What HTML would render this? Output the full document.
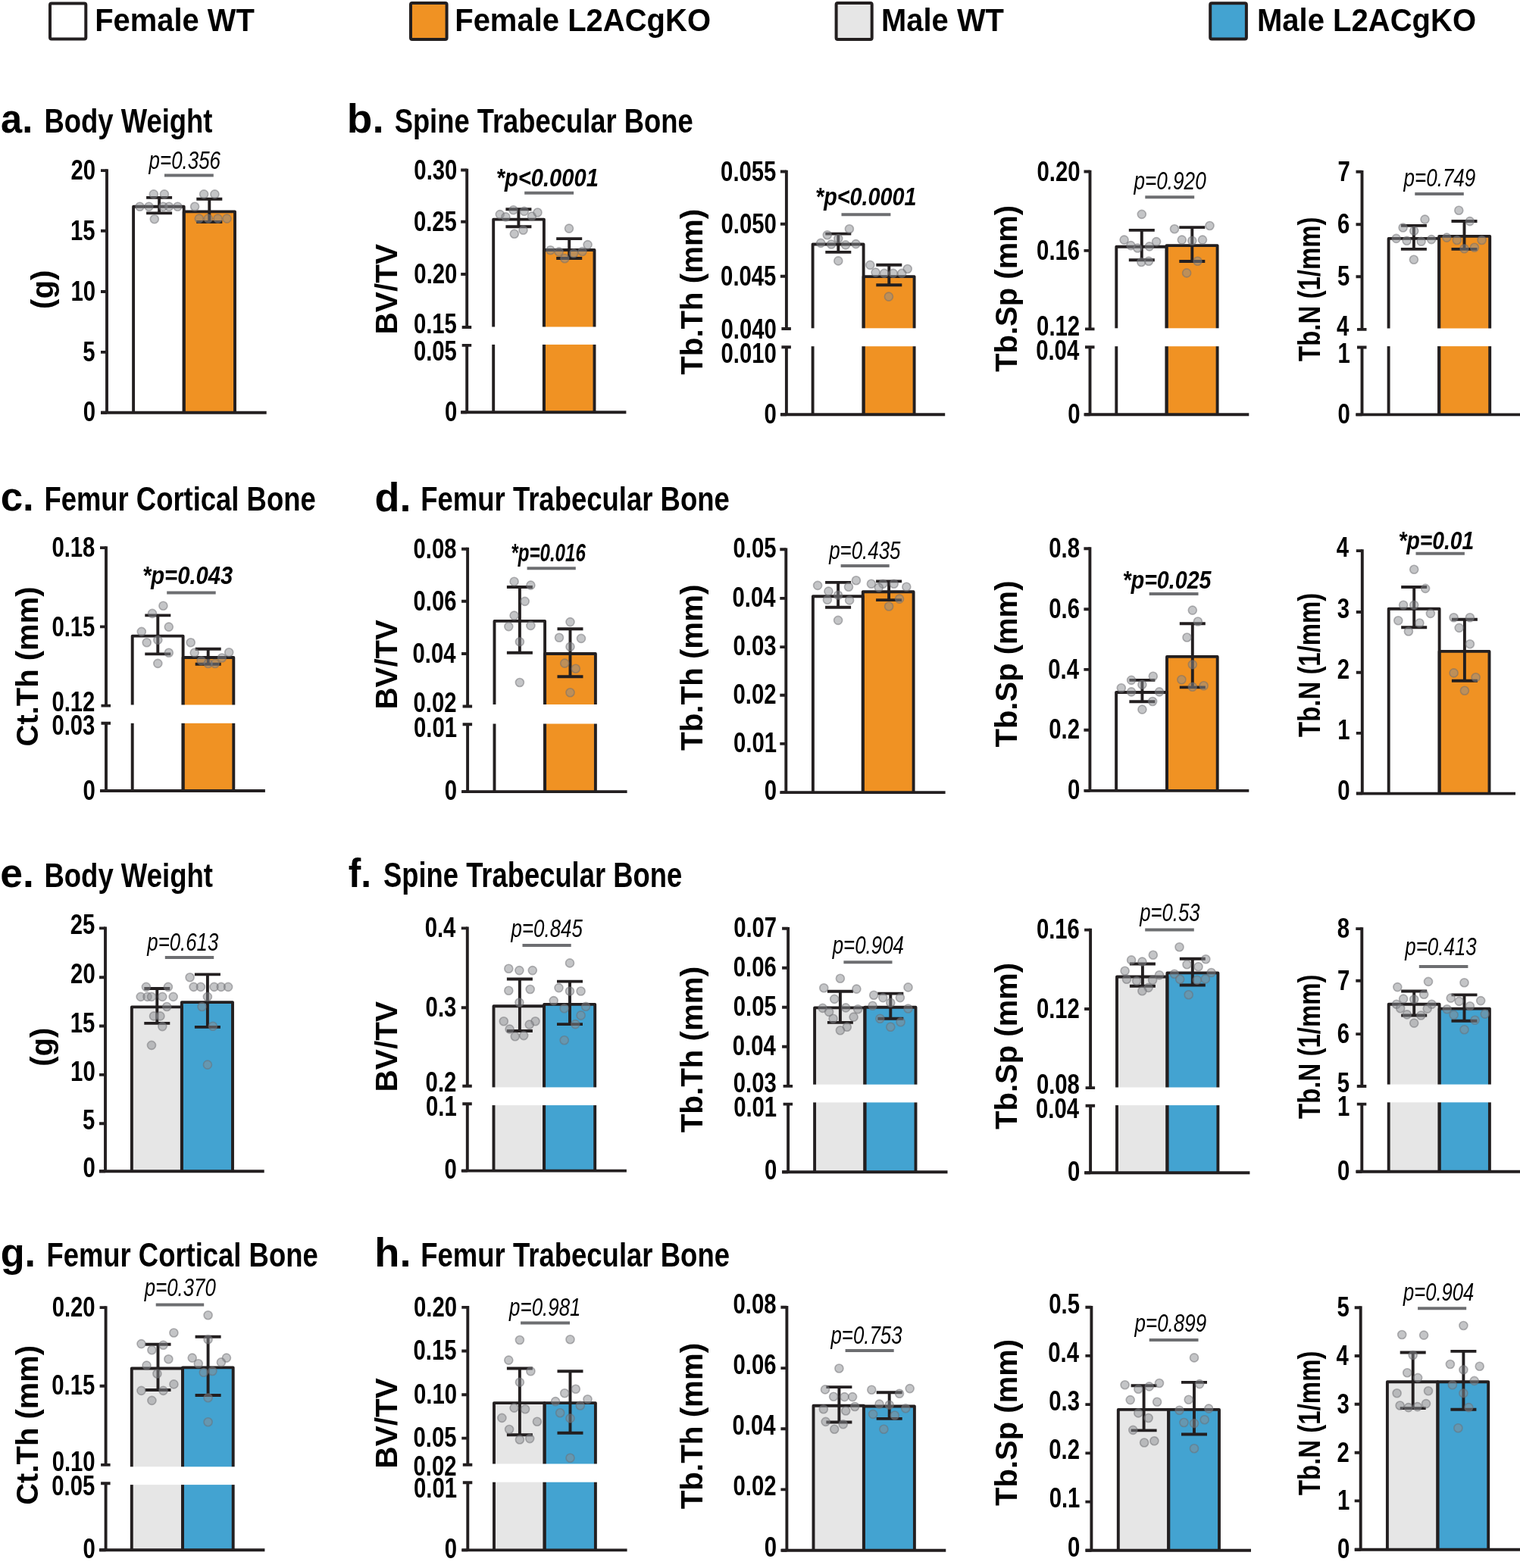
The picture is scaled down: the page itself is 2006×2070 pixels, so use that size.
<!DOCTYPE html>
<html><head><meta charset="utf-8"><title>Figure</title>
<style>
html,body{margin:0;padding:0;background:#fff;}
svg{display:block;}
text{font-family:"Liberation Sans", Arial, sans-serif;}
.o{fill:none;stroke:#231F20;stroke-width:3.9;stroke-linejoin:round;}
.e{fill:none;stroke:#231F20;stroke-width:3.9;}
.a{fill:none;stroke:#231F20;stroke-width:3.9;}
.s{fill:none;stroke:#6D6E71;stroke-width:4;}
.d{fill:#8A8C90;fill-opacity:0.5;stroke:#6D6E72;stroke-opacity:0.5;stroke-width:1.6;}
</style></head>
<body>
<svg xmlns="http://www.w3.org/2000/svg" width="2006" height="2070" viewBox="0 0 2006 2070">
<rect width="2006" height="2070" fill="#fff"/>
<g id="p_a"><rect x="176.10" y="272.70" width="66.60" height="272.00" fill="#FFFFFF"/><rect x="242.70" y="279.40" width="67.30" height="265.30" fill="#F09223"/><path d="M176.10,544.70V272.70H242.70V544.70" class="o"/><path d="M242.70,544.70V279.40H310.00V544.70" class="o"/><path d="M210.10,260.90V281.40M193.10,260.90H227.10M193.10,281.40H227.10" class="e"/><path d="M276.30,262.70V293.00M259.30,262.70H293.30M259.30,293.00H293.30" class="e"/><circle cx="202.8" cy="256.4" r="5.5" class="d"/><circle cx="216.9" cy="256.4" r="5.5" class="d"/><circle cx="184.5" cy="272.8" r="5.5" class="d"/><circle cx="196.5" cy="272.8" r="5.5" class="d"/><circle cx="215.4" cy="272.8" r="5.5" class="d"/><circle cx="223.0" cy="272.8" r="5.5" class="d"/><circle cx="234.4" cy="272.8" r="5.5" class="d"/><circle cx="203.8" cy="289.2" r="5.5" class="d"/><circle cx="269.1" cy="256.4" r="5.5" class="d"/><circle cx="283.4" cy="256.4" r="5.5" class="d"/><circle cx="257.1" cy="272.8" r="5.5" class="d"/><circle cx="262.8" cy="288.6" r="5.5" class="d"/><circle cx="274.8" cy="288.6" r="5.5" class="d"/><circle cx="287.5" cy="288.6" r="5.5" class="d"/><circle cx="299.5" cy="288.6" r="5.5" class="d"/><path d="M141.00,223.25V544.70" class="a"/><path d="M133.30,544.70H351.70" class="a"/><path d="M133.00,225.10H141.00M133.00,304.80H141.00M133.00,385.00H141.00M133.00,464.90H141.00M133.00,544.70H141.00" class="a"/><text transform="translate(93.39,236.90) scale(0.7900,1)" style="font-size:37.10px;font-weight:bold">20</text><text transform="translate(92.93,316.60) scale(0.7900,1)" style="font-size:37.10px;font-weight:bold">15</text><text transform="translate(93.39,396.80) scale(0.7900,1)" style="font-size:37.10px;font-weight:bold">10</text><text transform="translate(109.23,476.70) scale(0.7900,1)" style="font-size:37.10px;font-weight:bold">5</text><text transform="translate(109.69,555.70) scale(0.7900,1)" style="font-size:37.10px;font-weight:bold">0</text><path d="M217.00,231.60H281.80" class="s"/><text transform="translate(196.61,223.10) scale(0.7808,1)" style="font-size:33.20px;font-weight:normal;font-style:italic;" fill="#000">p=0.356</text><text transform="translate(69.50,407.88) rotate(-90) scale(0.9806,1)" style="font-size:41.00px;font-weight:bold">(g)</text></g>
<g id="p_b1"><rect x="651.20" y="289.60" width="66.70" height="254.60" fill="#FFFFFF"/><rect x="717.90" y="330.00" width="66.60" height="214.20" fill="#F09223"/><path d="M651.20,544.20V289.60H717.90V544.20" class="o"/><path d="M717.90,544.20V330.00H784.50V544.20" class="o"/><rect x="647.20" y="431.50" width="141.30" height="23.40" fill="#fff"/><path d="M684.40,276.30V299.20M667.40,276.30H701.40M667.40,299.20H701.40" class="e"/><path d="M751.20,315.10V341.00M734.20,315.10H768.20M734.20,341.00H768.20" class="e"/><circle cx="659.8" cy="283.1" r="5.5" class="d"/><circle cx="667.4" cy="286.4" r="5.5" class="d"/><circle cx="677.5" cy="277.2" r="5.5" class="d"/><circle cx="691.8" cy="278.9" r="5.5" class="d"/><circle cx="701.9" cy="285.6" r="5.5" class="d"/><circle cx="709.5" cy="280.5" r="5.5" class="d"/><circle cx="678.8" cy="308.8" r="5.5" class="d"/><circle cx="690.5" cy="303.7" r="5.5" class="d"/><circle cx="751.0" cy="301.6" r="5.5" class="d"/><circle cx="775.6" cy="323.1" r="5.5" class="d"/><circle cx="726.4" cy="330.3" r="5.5" class="d"/><circle cx="737.7" cy="332.4" r="5.5" class="d"/><circle cx="745.3" cy="341.2" r="5.5" class="d"/><circle cx="757.1" cy="334.5" r="5.5" class="d"/><circle cx="768.5" cy="332.0" r="5.5" class="d"/><path d="M616.20,222.65V432.00M616.20,455.90V544.20" class="a"/><path d="M609.70,432.00H622.20M609.70,455.90H622.20" class="a"/><path d="M608.40,544.20H826.40" class="a"/><path d="M608.20,224.50H616.20M608.20,292.80H616.20M608.20,362.00H616.20M608.20,544.20H616.20" class="a"/><text transform="translate(546.34,236.70) scale(0.7900,1)" style="font-size:37.10px;font-weight:bold">0.30</text><text transform="translate(545.89,305.00) scale(0.7900,1)" style="font-size:37.10px;font-weight:bold">0.25</text><text transform="translate(546.34,374.20) scale(0.7900,1)" style="font-size:37.10px;font-weight:bold">0.20</text><text transform="translate(545.89,439.90) scale(0.7900,1)" style="font-size:37.10px;font-weight:bold">0.15</text><text transform="translate(545.89,475.80) scale(0.7900,1)" style="font-size:37.10px;font-weight:bold">0.05</text><text transform="translate(587.09,555.60) scale(0.7900,1)" style="font-size:37.10px;font-weight:bold">0</text><path d="M692.20,254.70H757.10" class="s"/><text transform="translate(654.69,245.90) scale(0.8778,1)" style="font-size:33.20px;font-weight:bold;font-style:italic;" fill="#000">*p&lt;0.0001</text><text transform="translate(523.90,441.43) rotate(-90) scale(0.9892,1)" style="font-size:41.00px;font-weight:bold">BV/TV</text></g>
<g id="p_b2"><rect x="1072.60" y="322.50" width="67.00" height="224.70" fill="#FFFFFF"/><rect x="1139.60" y="365.10" width="67.00" height="182.10" fill="#F09223"/><path d="M1072.60,547.20V322.50H1139.60V547.20" class="o"/><path d="M1139.60,547.20V365.10H1206.60V547.20" class="o"/><rect x="1068.60" y="433.30" width="142.00" height="23.90" fill="#fff"/><path d="M1106.30,308.60V332.90M1089.30,308.60H1123.30M1089.30,332.90H1123.30" class="e"/><path d="M1173.30,349.80V376.20M1156.30,349.80H1190.30M1156.30,376.20H1190.30" class="e"/><circle cx="1120.9" cy="302.3" r="5.5" class="d"/><circle cx="1091.8" cy="310.3" r="5.5" class="d"/><circle cx="1106.3" cy="315.0" r="5.5" class="d"/><circle cx="1083.2" cy="320.9" r="5.5" class="d"/><circle cx="1097.1" cy="322.5" r="5.5" class="d"/><circle cx="1116.0" cy="323.4" r="5.5" class="d"/><circle cx="1129.5" cy="322.1" r="5.5" class="d"/><circle cx="1106.3" cy="344.4" r="5.5" class="d"/><circle cx="1148.3" cy="349.9" r="5.5" class="d"/><circle cx="1197.7" cy="355.0" r="5.5" class="d"/><circle cx="1155.6" cy="359.6" r="5.5" class="d"/><circle cx="1167.0" cy="360.9" r="5.5" class="d"/><circle cx="1178.8" cy="360.9" r="5.5" class="d"/><circle cx="1190.2" cy="360.9" r="5.5" class="d"/><circle cx="1172.9" cy="391.6" r="5.5" class="d"/><path d="M1037.90,224.65V434.00M1037.90,458.30V547.20" class="a"/><path d="M1031.40,434.00H1043.90M1031.40,458.30H1043.90" class="a"/><path d="M1030.40,547.20H1247.20" class="a"/><path d="M1029.90,226.50H1037.90M1029.90,295.70H1037.90M1029.90,364.70H1037.90M1029.90,547.20H1037.90" class="a"/><text transform="translate(951.09,238.80) scale(0.7900,1)" style="font-size:37.10px;font-weight:bold">0.055</text><text transform="translate(951.54,308.00) scale(0.7900,1)" style="font-size:37.10px;font-weight:bold">0.050</text><text transform="translate(951.09,377.00) scale(0.7900,1)" style="font-size:37.10px;font-weight:bold">0.045</text><text transform="translate(951.54,446.70) scale(0.7900,1)" style="font-size:37.10px;font-weight:bold">0.040</text><text transform="translate(951.54,479.10) scale(0.7900,1)" style="font-size:37.10px;font-weight:bold">0.010</text><text transform="translate(1008.59,558.70) scale(0.7900,1)" style="font-size:37.10px;font-weight:bold">0</text><path d="M1110.50,283.20H1175.40" class="s"/><text transform="translate(1076.00,271.40) scale(0.8672,1)" style="font-size:33.20px;font-weight:bold;font-style:italic;" fill="#000">*p&lt;0.0001</text><text transform="translate(927.20,494.70) rotate(-90) scale(0.9806,1)" style="font-size:41.00px;font-weight:bold">Tb.Th (mm)</text></g>
<g id="p_b3"><rect x="1473.30" y="325.70" width="66.30" height="221.50" fill="#FFFFFF"/><rect x="1539.60" y="324.10" width="67.00" height="223.10" fill="#F09223"/><path d="M1473.30,547.20V325.70H1539.60V547.20" class="o"/><path d="M1539.60,547.20V324.10H1606.60V547.20" class="o"/><rect x="1469.30" y="433.30" width="141.30" height="23.90" fill="#fff"/><path d="M1506.80,303.90V343.30M1489.80,303.90H1523.80M1489.80,343.30H1523.80" class="e"/><path d="M1573.30,300.10V345.00M1556.30,300.10H1590.30M1556.30,345.00H1590.30" class="e"/><circle cx="1506.8" cy="282.9" r="5.5" class="d"/><circle cx="1483.6" cy="316.6" r="5.5" class="d"/><circle cx="1492.4" cy="324.1" r="5.5" class="d"/><circle cx="1501.3" cy="327.5" r="5.5" class="d"/><circle cx="1526.1" cy="319.1" r="5.5" class="d"/><circle cx="1516.9" cy="325.4" r="5.5" class="d"/><circle cx="1506.3" cy="346.0" r="5.5" class="d"/><circle cx="1516.0" cy="344.8" r="5.5" class="d"/><circle cx="1550.0" cy="302.2" r="5.5" class="d"/><circle cx="1596.5" cy="298.0" r="5.5" class="d"/><circle cx="1559.8" cy="316.6" r="5.5" class="d"/><circle cx="1573.3" cy="317.8" r="5.5" class="d"/><circle cx="1587.0" cy="316.6" r="5.5" class="d"/><circle cx="1580.5" cy="344.8" r="5.5" class="d"/><circle cx="1566.1" cy="360.4" r="5.5" class="d"/><path d="M1438.50,224.65V434.40M1438.50,458.30V547.20" class="a"/><path d="M1432.00,434.40H1444.50M1432.00,458.30H1444.50" class="a"/><path d="M1431.60,547.20H1648.30" class="a"/><path d="M1430.50,226.50H1438.50M1430.50,330.90H1438.50M1430.50,547.20H1438.50" class="a"/><text transform="translate(1368.54,238.70) scale(0.7900,1)" style="font-size:37.10px;font-weight:bold">0.20</text><text transform="translate(1368.09,343.10) scale(0.7900,1)" style="font-size:37.10px;font-weight:bold">0.16</text><text transform="translate(1368.09,442.70) scale(0.7900,1)" style="font-size:37.10px;font-weight:bold">0.12</text><text transform="translate(1367.17,474.90) scale(0.7900,1)" style="font-size:37.10px;font-weight:bold">0.04</text><text transform="translate(1409.29,558.60) scale(0.7900,1)" style="font-size:37.10px;font-weight:bold">0</text><path d="M1511.30,260.30H1576.20" class="s"/><text transform="translate(1496.52,250.40) scale(0.7874,1)" style="font-size:33.20px;font-weight:normal;font-style:italic;" fill="#000">p=0.920</text><text transform="translate(1342.10,490.90) rotate(-90) scale(0.9759,1)" style="font-size:41.00px;font-weight:bold">Tb.Sp (mm)</text></g>
<g id="p_b4"><rect x="1832.60" y="314.90" width="66.60" height="232.50" fill="#FFFFFF"/><rect x="1899.20" y="311.90" width="67.00" height="235.50" fill="#F09223"/><path d="M1832.60,547.40V314.90H1899.20V547.40" class="o"/><path d="M1899.20,547.40V311.90H1966.20V547.40" class="o"/><rect x="1828.60" y="433.50" width="141.60" height="23.60" fill="#fff"/><path d="M1865.90,297.90V328.90M1848.90,297.90H1882.90M1848.90,328.90H1882.90" class="e"/><path d="M1932.50,292.00V328.90M1915.50,292.00H1949.50M1915.50,328.90H1949.50" class="e"/><circle cx="1880.5" cy="289.6" r="5.5" class="d"/><circle cx="1851.6" cy="300.5" r="5.5" class="d"/><circle cx="1866.2" cy="304.8" r="5.5" class="d"/><circle cx="1842.7" cy="314.9" r="5.5" class="d"/><circle cx="1856.6" cy="317.8" r="5.5" class="d"/><circle cx="1875.6" cy="318.7" r="5.5" class="d"/><circle cx="1889.1" cy="316.1" r="5.5" class="d"/><circle cx="1865.9" cy="342.7" r="5.5" class="d"/><circle cx="1925.3" cy="277.8" r="5.5" class="d"/><circle cx="1939.8" cy="292.1" r="5.5" class="d"/><circle cx="1909.3" cy="313.6" r="5.5" class="d"/><circle cx="1922.8" cy="317.0" r="5.5" class="d"/><circle cx="1955.6" cy="317.0" r="5.5" class="d"/><circle cx="1932.5" cy="328.3" r="5.5" class="d"/><circle cx="1945.9" cy="326.7" r="5.5" class="d"/><path d="M1797.50,224.95V434.90M1797.50,458.50V547.40" class="a"/><path d="M1791.00,434.90H1803.50M1791.00,458.50H1803.50" class="a"/><path d="M1789.40,547.40H2006.00" class="a"/><path d="M1789.50,226.80H1797.50M1789.50,296.30H1797.50M1789.50,365.20H1797.50M1789.50,547.40H1797.50" class="a"/><text transform="translate(1765.49,238.80) scale(0.7900,1)" style="font-size:37.10px;font-weight:bold">7</text><text transform="translate(1765.03,308.30) scale(0.7900,1)" style="font-size:37.10px;font-weight:bold">6</text><text transform="translate(1765.03,377.20) scale(0.7900,1)" style="font-size:37.10px;font-weight:bold">5</text><text transform="translate(1764.11,443.10) scale(0.7900,1)" style="font-size:37.10px;font-weight:bold">4</text><text transform="translate(1765.49,478.70) scale(0.7900,1)" style="font-size:37.10px;font-weight:bold">1</text><text transform="translate(1765.49,558.60) scale(0.7900,1)" style="font-size:37.10px;font-weight:bold">0</text><path d="M1867.30,256.10H1931.80" class="s"/><text transform="translate(1852.51,246.20) scale(0.7841,1)" style="font-size:33.20px;font-weight:normal;font-style:italic;" fill="#000">p=0.749</text><text transform="translate(1742.20,477.00) rotate(-90) scale(0.8046,1)" style="font-size:41.00px;font-weight:bold">Tb.N (1/mm)</text></g>
<g id="p_c"><rect x="174.70" y="839.60" width="66.90" height="204.40" fill="#FFFFFF"/><rect x="241.60" y="868.00" width="66.70" height="176.00" fill="#F09223"/><path d="M174.70,1044.00V839.60H241.60V1044.00" class="o"/><path d="M241.60,1044.00V868.00H308.30V1044.00" class="o"/><rect x="170.70" y="930.50" width="141.60" height="24.30" fill="#fff"/><path d="M208.30,812.40V863.40M191.30,812.40H225.30M191.30,863.40H225.30" class="e"/><path d="M274.70,856.70V876.70M257.70,856.70H291.70M257.70,876.70H291.70" class="e"/><circle cx="215.4" cy="799.8" r="5.5" class="d"/><circle cx="201.0" cy="809.9" r="5.5" class="d"/><circle cx="222.8" cy="827.6" r="5.5" class="d"/><circle cx="186.8" cy="833.9" r="5.5" class="d"/><circle cx="193.7" cy="848.2" r="5.5" class="d"/><circle cx="208.3" cy="844.9" r="5.5" class="d"/><circle cx="222.8" cy="861.7" r="5.5" class="d"/><circle cx="208.3" cy="875.9" r="5.5" class="d"/><circle cx="251.7" cy="848.2" r="5.5" class="d"/><circle cx="256.7" cy="861.7" r="5.5" class="d"/><circle cx="302.2" cy="861.3" r="5.5" class="d"/><circle cx="292.9" cy="868.5" r="5.5" class="d"/><circle cx="265.7" cy="872.2" r="5.5" class="d"/><circle cx="274.7" cy="876.0" r="5.5" class="d"/><circle cx="283.8" cy="876.0" r="5.5" class="d"/><path d="M140.00,721.25V931.60M140.00,954.80V1044.00" class="a"/><path d="M133.50,931.60H146.00M133.50,954.80H146.00" class="a"/><path d="M132.00,1044.00H349.90" class="a"/><path d="M132.00,723.10H140.00M132.00,827.40H140.00M132.00,1044.00H140.00" class="a"/><text transform="translate(68.39,735.40) scale(0.7900,1)" style="font-size:37.10px;font-weight:bold">0.18</text><text transform="translate(68.39,839.70) scale(0.7900,1)" style="font-size:37.10px;font-weight:bold">0.15</text><text transform="translate(68.39,939.00) scale(0.7900,1)" style="font-size:37.10px;font-weight:bold">0.12</text><text transform="translate(68.39,970.20) scale(0.7900,1)" style="font-size:37.10px;font-weight:bold">0.03</text><text transform="translate(109.59,1055.50) scale(0.7900,1)" style="font-size:37.10px;font-weight:bold">0</text><path d="M220.20,782.50H284.70" class="s"/><text transform="translate(187.89,771.40) scale(0.8800,1)" style="font-size:33.20px;font-weight:bold;font-style:italic;" fill="#000">*p=0.043</text><text transform="translate(49.60,985.45) rotate(-90) scale(0.9752,1)" style="font-size:41.00px;font-weight:bold">Ct.Th (mm)</text></g>
<g id="p_d1"><rect x="652.50" y="819.90" width="66.60" height="225.20" fill="#FFFFFF"/><rect x="719.10" y="863.00" width="66.80" height="182.10" fill="#F09223"/><path d="M652.50,1045.10V819.90H719.10V1045.10" class="o"/><path d="M719.10,1045.10V863.00H785.90V1045.10" class="o"/><rect x="648.50" y="930.00" width="141.40" height="25.50" fill="#fff"/><path d="M685.90,775.00V861.80M668.90,775.00H702.90M668.90,861.80H702.90" class="e"/><path d="M752.50,830.30V893.30M735.50,830.30H769.50M735.50,893.30H769.50" class="e"/><circle cx="678.6" cy="767.8" r="5.5" class="d"/><circle cx="700.4" cy="772.6" r="5.5" class="d"/><circle cx="692.7" cy="793.9" r="5.5" class="d"/><circle cx="678.6" cy="812.6" r="5.5" class="d"/><circle cx="671.3" cy="827.1" r="5.5" class="d"/><circle cx="700.4" cy="825.9" r="5.5" class="d"/><circle cx="685.9" cy="847.2" r="5.5" class="d"/><circle cx="685.9" cy="901.0" r="5.5" class="d"/><circle cx="752.5" cy="821.1" r="5.5" class="d"/><circle cx="738.0" cy="841.7" r="5.5" class="d"/><circle cx="767.0" cy="842.9" r="5.5" class="d"/><circle cx="752.5" cy="853.8" r="5.5" class="d"/><circle cx="745.2" cy="875.6" r="5.5" class="d"/><circle cx="759.8" cy="882.8" r="5.5" class="d"/><circle cx="752.5" cy="914.3" r="5.5" class="d"/><path d="M617.10,722.85V932.50M617.10,956.20V1045.10" class="a"/><path d="M610.60,932.50H623.10M610.60,956.20H623.10" class="a"/><path d="M609.60,1045.10H827.60" class="a"/><path d="M609.10,724.70H617.10M609.10,793.70H617.10M609.10,863.00H617.10M609.10,1045.10H617.10" class="a"/><text transform="translate(545.49,736.50) scale(0.7900,1)" style="font-size:37.10px;font-weight:bold">0.08</text><text transform="translate(545.49,805.50) scale(0.7900,1)" style="font-size:37.10px;font-weight:bold">0.06</text><text transform="translate(544.57,874.80) scale(0.7900,1)" style="font-size:37.10px;font-weight:bold">0.04</text><text transform="translate(545.49,940.40) scale(0.7900,1)" style="font-size:37.10px;font-weight:bold">0.02</text><text transform="translate(545.94,972.60) scale(0.7900,1)" style="font-size:37.10px;font-weight:bold">0.01</text><text transform="translate(586.69,1056.10) scale(0.7900,1)" style="font-size:37.10px;font-weight:bold">0</text><path d="M695.60,750.30H759.80" class="s"/><text transform="translate(674.25,740.70) scale(0.7275,1)" style="font-size:33.20px;font-weight:bold;font-style:italic;" fill="#000">*p=0.016</text><text transform="translate(523.70,936.41) rotate(-90) scale(0.9799,1)" style="font-size:41.00px;font-weight:bold">BV/TV</text></g>
<g id="p_d2"><rect x="1072.90" y="787.30" width="65.90" height="258.80" fill="#FFFFFF"/><rect x="1138.80" y="781.30" width="66.80" height="264.80" fill="#F09223"/><path d="M1072.90,1046.10V787.30H1138.80V1046.10" class="o"/><path d="M1138.80,1046.10V781.30H1205.60V1046.10" class="o"/><path d="M1106.10,768.90V801.70M1089.10,768.90H1123.10M1089.10,801.70H1123.10" class="e"/><path d="M1173.10,767.40V792.10M1156.10,767.40H1190.10M1156.10,792.10H1190.10" class="e"/><circle cx="1079.1" cy="772.9" r="5.5" class="d"/><circle cx="1129.9" cy="766.3" r="5.5" class="d"/><circle cx="1120.0" cy="774.7" r="5.5" class="d"/><circle cx="1093.4" cy="780.6" r="5.5" class="d"/><circle cx="1106.1" cy="785.7" r="5.5" class="d"/><circle cx="1091.9" cy="791.7" r="5.5" class="d"/><circle cx="1121.1" cy="792.4" r="5.5" class="d"/><circle cx="1106.1" cy="818.9" r="5.5" class="d"/><circle cx="1149.9" cy="770.7" r="5.5" class="d"/><circle cx="1165.3" cy="770.7" r="5.5" class="d"/><circle cx="1179.7" cy="770.7" r="5.5" class="d"/><circle cx="1159.8" cy="775.6" r="5.5" class="d"/><circle cx="1196.3" cy="774.7" r="5.5" class="d"/><circle cx="1187.0" cy="790.6" r="5.5" class="d"/><circle cx="1173.1" cy="800.5" r="5.5" class="d"/><path d="M1037.30,723.45V1046.10" class="a"/><path d="M1030.40,1046.10H1247.60" class="a"/><path d="M1029.30,725.30H1037.30M1029.30,789.90H1037.30M1029.30,854.10H1037.30M1029.30,917.80H1037.30M1029.30,981.90H1037.30M1029.30,1046.10H1037.30" class="a"/><text transform="translate(967.49,736.30) scale(0.7900,1)" style="font-size:37.10px;font-weight:bold">0.05</text><text transform="translate(966.57,800.90) scale(0.7900,1)" style="font-size:37.10px;font-weight:bold">0.04</text><text transform="translate(967.49,865.10) scale(0.7900,1)" style="font-size:37.10px;font-weight:bold">0.03</text><text transform="translate(967.49,928.80) scale(0.7900,1)" style="font-size:37.10px;font-weight:bold">0.02</text><text transform="translate(967.94,992.90) scale(0.7900,1)" style="font-size:37.10px;font-weight:bold">0.01</text><text transform="translate(1008.69,1056.30) scale(0.7900,1)" style="font-size:37.10px;font-weight:bold">0</text><path d="M1109.60,747.00H1173.70" class="s"/><text transform="translate(1094.21,738.20) scale(0.7792,1)" style="font-size:33.20px;font-weight:normal;font-style:italic;" fill="#000">p=0.435</text><text transform="translate(927.20,990.90) rotate(-90) scale(0.9833,1)" style="font-size:41.00px;font-weight:bold">Tb.Th (mm)</text></g>
<g id="p_d3"><rect x="1473.10" y="914.00" width="66.90" height="129.90" fill="#FFFFFF"/><rect x="1540.00" y="866.90" width="66.70" height="177.00" fill="#F09223"/><path d="M1473.10,1043.90V914.00H1540.00V1043.90" class="o"/><path d="M1540.00,1043.90V866.90H1606.70V1043.90" class="o"/><path d="M1507.40,897.90V926.20M1490.40,897.90H1524.40M1490.40,926.20H1524.40" class="e"/><path d="M1573.80,823.30V907.40M1556.80,823.30H1590.80M1556.80,907.40H1590.80" class="e"/><circle cx="1521.8" cy="892.8" r="5.5" class="d"/><circle cx="1493.1" cy="897.9" r="5.5" class="d"/><circle cx="1507.4" cy="903.8" r="5.5" class="d"/><circle cx="1479.8" cy="908.3" r="5.5" class="d"/><circle cx="1493.1" cy="913.4" r="5.5" class="d"/><circle cx="1530.0" cy="913.4" r="5.5" class="d"/><circle cx="1521.1" cy="926.0" r="5.5" class="d"/><circle cx="1507.4" cy="936.6" r="5.5" class="d"/><circle cx="1573.8" cy="805.6" r="5.5" class="d"/><circle cx="1580.9" cy="820.5" r="5.5" class="d"/><circle cx="1566.5" cy="841.5" r="5.5" class="d"/><circle cx="1573.8" cy="877.3" r="5.5" class="d"/><circle cx="1559.4" cy="897.2" r="5.5" class="d"/><circle cx="1573.8" cy="906.7" r="5.5" class="d"/><circle cx="1588.6" cy="905.2" r="5.5" class="d"/><path d="M1438.40,722.35V1043.90" class="a"/><path d="M1431.60,1043.90H1648.30" class="a"/><path d="M1430.40,724.20H1438.40M1430.40,804.30H1438.40M1430.40,883.90H1438.40M1430.40,963.80H1438.40M1430.40,1043.90H1438.40" class="a"/><text transform="translate(1384.19,735.80) scale(0.7900,1)" style="font-size:37.10px;font-weight:bold">0.8</text><text transform="translate(1384.19,815.90) scale(0.7900,1)" style="font-size:37.10px;font-weight:bold">0.6</text><text transform="translate(1383.27,895.50) scale(0.7900,1)" style="font-size:37.10px;font-weight:bold">0.4</text><text transform="translate(1384.19,975.40) scale(0.7900,1)" style="font-size:37.10px;font-weight:bold">0.2</text><text transform="translate(1409.09,1054.70) scale(0.7900,1)" style="font-size:37.10px;font-weight:bold">0</text><path d="M1516.70,784.00H1581.50" class="s"/><text transform="translate(1481.50,776.90) scale(0.8629,1)" style="font-size:33.20px;font-weight:bold;font-style:italic;" fill="#000">*p=0.025</text><text transform="translate(1342.10,986.50) rotate(-90) scale(0.9759,1)" style="font-size:41.00px;font-weight:bold">Tb.Sp (mm)</text></g>
<g id="p_d4"><rect x="1832.70" y="803.70" width="66.90" height="243.90" fill="#FFFFFF"/><rect x="1899.60" y="859.90" width="65.90" height="187.70" fill="#F09223"/><path d="M1832.70,1047.60V803.70H1899.60V1047.60" class="o"/><path d="M1899.60,1047.60V859.90H1965.50V1047.60" class="o"/><path d="M1866.20,775.00V828.30M1849.20,775.00H1883.20M1849.20,828.30H1883.20" class="e"/><path d="M1932.90,817.70V898.70M1915.90,817.70H1949.90M1915.90,898.70H1949.90" class="e"/><circle cx="1866.2" cy="751.7" r="5.5" class="d"/><circle cx="1881.1" cy="776.9" r="5.5" class="d"/><circle cx="1852.1" cy="798.7" r="5.5" class="d"/><circle cx="1866.2" cy="798.7" r="5.5" class="d"/><circle cx="1887.9" cy="809.9" r="5.5" class="d"/><circle cx="1845.3" cy="819.2" r="5.5" class="d"/><circle cx="1873.4" cy="822.5" r="5.5" class="d"/><circle cx="1858.9" cy="833.5" r="5.5" class="d"/><circle cx="1918.6" cy="815.3" r="5.5" class="d"/><circle cx="1939.9" cy="815.3" r="5.5" class="d"/><circle cx="1925.7" cy="828.9" r="5.5" class="d"/><circle cx="1939.9" cy="850.2" r="5.5" class="d"/><circle cx="1918.6" cy="888.4" r="5.5" class="d"/><circle cx="1947.6" cy="894.2" r="5.5" class="d"/><circle cx="1932.9" cy="911.7" r="5.5" class="d"/><path d="M1797.80,725.25V1047.60" class="a"/><path d="M1790.00,1047.60H2000.00" class="a"/><path d="M1789.80,727.10H1797.80M1789.80,808.00H1797.80M1789.80,887.80H1797.80M1789.80,967.90H1797.80M1789.80,1047.40H1797.80" class="a"/><text transform="translate(1763.81,735.30) scale(0.7900,1)" style="font-size:37.10px;font-weight:bold">4</text><text transform="translate(1764.73,816.20) scale(0.7900,1)" style="font-size:37.10px;font-weight:bold">3</text><text transform="translate(1764.73,896.00) scale(0.7900,1)" style="font-size:37.10px;font-weight:bold">2</text><text transform="translate(1765.19,976.10) scale(0.7900,1)" style="font-size:37.10px;font-weight:bold">1</text><text transform="translate(1765.19,1055.60) scale(0.7900,1)" style="font-size:37.10px;font-weight:bold">0</text><path d="M1868.50,730.80H1932.90" class="s"/><text transform="translate(1845.42,725.20) scale(0.8526,1)" style="font-size:33.20px;font-weight:bold;font-style:italic;" fill="#000">*p=0.01</text><text transform="translate(1742.20,972.90) rotate(-90) scale(0.8033,1)" style="font-size:41.00px;font-weight:bold">Tb.N (1/mm)</text></g>
<g id="p_e"><rect x="173.90" y="1329.40" width="66.00" height="216.90" fill="#E6E6E6"/><rect x="239.90" y="1323.10" width="67.10" height="223.20" fill="#43A3D1"/><path d="M173.90,1546.30V1329.40H239.90V1546.30" class="o"/><path d="M239.90,1546.30V1323.10H307.00V1546.30" class="o"/><path d="M207.30,1305.00V1350.90M190.30,1305.00H224.30M190.30,1350.90H224.30" class="e"/><path d="M273.90,1286.40V1355.90M256.90,1286.40H290.90M256.90,1355.90H290.90" class="e"/><circle cx="192.9" cy="1302.9" r="5.5" class="d"/><circle cx="221.9" cy="1302.9" r="5.5" class="d"/><circle cx="185.7" cy="1315.9" r="5.5" class="d"/><circle cx="194.5" cy="1315.9" r="5.5" class="d"/><circle cx="200.0" cy="1315.9" r="5.5" class="d"/><circle cx="214.3" cy="1315.9" r="5.5" class="d"/><circle cx="228.7" cy="1315.9" r="5.5" class="d"/><circle cx="220.2" cy="1329.0" r="5.5" class="d"/><circle cx="203.0" cy="1341.4" r="5.5" class="d"/><circle cx="211.4" cy="1341.4" r="5.5" class="d"/><circle cx="214.3" cy="1355.1" r="5.5" class="d"/><circle cx="200.0" cy="1379.9" r="5.5" class="d"/><circle cx="250.6" cy="1290.2" r="5.5" class="d"/><circle cx="255.6" cy="1302.9" r="5.5" class="d"/><circle cx="264.9" cy="1302.9" r="5.5" class="d"/><circle cx="282.6" cy="1302.9" r="5.5" class="d"/><circle cx="291.8" cy="1302.9" r="5.5" class="d"/><circle cx="301.1" cy="1302.9" r="5.5" class="d"/><circle cx="273.9" cy="1315.9" r="5.5" class="d"/><circle cx="266.6" cy="1329.0" r="5.5" class="d"/><circle cx="280.9" cy="1354.7" r="5.5" class="d"/><circle cx="273.9" cy="1405.6" r="5.5" class="d"/><path d="M139.00,1223.55V1546.30" class="a"/><path d="M130.90,1546.30H348.70" class="a"/><path d="M131.00,1225.40H139.00M131.00,1290.30H139.00M131.00,1354.50H139.00M131.00,1418.90H139.00M131.00,1483.30H139.00M131.00,1546.30H139.00" class="a"/><text transform="translate(92.63,1233.40) scale(0.7900,1)" style="font-size:37.10px;font-weight:bold">25</text><text transform="translate(93.09,1298.30) scale(0.7900,1)" style="font-size:37.10px;font-weight:bold">20</text><text transform="translate(92.63,1362.50) scale(0.7900,1)" style="font-size:37.10px;font-weight:bold">15</text><text transform="translate(93.09,1426.90) scale(0.7900,1)" style="font-size:37.10px;font-weight:bold">10</text><text transform="translate(108.93,1491.30) scale(0.7900,1)" style="font-size:37.10px;font-weight:bold">5</text><text transform="translate(109.39,1554.30) scale(0.7900,1)" style="font-size:37.10px;font-weight:bold">0</text><path d="M217.80,1264.10H282.20" class="s"/><text transform="translate(194.31,1255.10) scale(0.7775,1)" style="font-size:33.20px;font-weight:normal;font-style:italic;" fill="#000">p=0.613</text><text transform="translate(69.30,1407.78) rotate(-90) scale(0.9766,1)" style="font-size:41.00px;font-weight:bold">(g)</text></g>
<g id="p_f1"><rect x="651.50" y="1328.30" width="66.60" height="217.30" fill="#E6E6E6"/><rect x="718.10" y="1325.90" width="67.10" height="219.70" fill="#43A3D1"/><path d="M651.50,1545.60V1328.30H718.10V1545.60" class="o"/><path d="M718.10,1545.60V1325.90H785.20V1545.60" class="o"/><rect x="647.50" y="1435.40" width="141.70" height="23.70" fill="#fff"/><path d="M685.90,1292.50V1361.00M668.90,1292.50H702.90M668.90,1361.00H702.90" class="e"/><path d="M752.00,1295.60V1352.10M735.00,1295.60H769.00M735.00,1352.10H769.00" class="e"/><circle cx="671.3" cy="1278.7" r="5.5" class="d"/><circle cx="685.4" cy="1281.1" r="5.5" class="d"/><circle cx="702.8" cy="1281.1" r="5.5" class="d"/><circle cx="671.3" cy="1307.7" r="5.5" class="d"/><circle cx="699.7" cy="1306.0" r="5.5" class="d"/><circle cx="685.4" cy="1323.5" r="5.5" class="d"/><circle cx="664.8" cy="1348.2" r="5.5" class="d"/><circle cx="706.5" cy="1348.2" r="5.5" class="d"/><circle cx="698.7" cy="1352.6" r="5.5" class="d"/><circle cx="672.6" cy="1358.6" r="5.5" class="d"/><circle cx="679.8" cy="1368.3" r="5.5" class="d"/><circle cx="691.2" cy="1367.1" r="5.5" class="d"/><circle cx="752.0" cy="1271.4" r="5.5" class="d"/><circle cx="737.5" cy="1304.1" r="5.5" class="d"/><circle cx="752.0" cy="1308.5" r="5.5" class="d"/><circle cx="766.6" cy="1308.5" r="5.5" class="d"/><circle cx="730.7" cy="1321.1" r="5.5" class="d"/><circle cx="744.7" cy="1331.2" r="5.5" class="d"/><circle cx="773.1" cy="1328.8" r="5.5" class="d"/><circle cx="766.6" cy="1340.4" r="5.5" class="d"/><circle cx="759.3" cy="1352.1" r="5.5" class="d"/><circle cx="744.7" cy="1373.2" r="5.5" class="d"/><path d="M616.80,1223.55V1433.70M616.80,1457.20V1545.60" class="a"/><path d="M610.30,1433.70H622.80M610.30,1457.20H622.80" class="a"/><path d="M609.60,1545.60H826.90" class="a"/><path d="M608.80,1225.40H616.80M608.80,1330.30H616.80M608.80,1545.60H616.80" class="a"/><text transform="translate(560.67,1237.00) scale(0.7900,1)" style="font-size:37.10px;font-weight:bold">0.4</text><text transform="translate(561.59,1341.90) scale(0.7900,1)" style="font-size:37.10px;font-weight:bold">0.3</text><text transform="translate(561.59,1441.30) scale(0.7900,1)" style="font-size:37.10px;font-weight:bold">0.2</text><text transform="translate(562.04,1473.10) scale(0.7900,1)" style="font-size:37.10px;font-weight:bold">0.1</text><text transform="translate(586.49,1556.40) scale(0.7900,1)" style="font-size:37.10px;font-weight:bold">0</text><path d="M689.50,1247.90H753.70" class="s"/><text transform="translate(674.61,1237.10) scale(0.7792,1)" style="font-size:33.20px;font-weight:normal;font-style:italic;" fill="#000">p=0.845</text><text transform="translate(523.90,1441.43) rotate(-90) scale(0.9892,1)" style="font-size:41.00px;font-weight:bold">BV/TV</text></g>
<g id="p_f2"><rect x="1075.10" y="1330.40" width="66.30" height="216.80" fill="#E6E6E6"/><rect x="1141.40" y="1329.70" width="67.10" height="217.50" fill="#43A3D1"/><path d="M1075.10,1547.20V1330.40H1141.40V1547.20" class="o"/><path d="M1141.40,1547.20V1329.70H1208.50V1547.20" class="o"/><rect x="1071.10" y="1431.70" width="141.40" height="23.70" fill="#fff"/><path d="M1108.90,1308.70V1349.90M1091.90,1308.70H1125.90M1091.90,1349.90H1125.90" class="e"/><path d="M1175.30,1311.60V1344.80M1158.30,1311.60H1192.30M1158.30,1344.80H1192.30" class="e"/><circle cx="1108.9" cy="1291.7" r="5.5" class="d"/><circle cx="1087.3" cy="1304.3" r="5.5" class="d"/><circle cx="1130.4" cy="1305.6" r="5.5" class="d"/><circle cx="1101.2" cy="1318.9" r="5.5" class="d"/><circle cx="1085.7" cy="1330.9" r="5.5" class="d"/><circle cx="1116.2" cy="1330.4" r="5.5" class="d"/><circle cx="1132.2" cy="1332.2" r="5.5" class="d"/><circle cx="1094.1" cy="1335.9" r="5.5" class="d"/><circle cx="1099.6" cy="1344.8" r="5.5" class="d"/><circle cx="1126.6" cy="1342.6" r="5.5" class="d"/><circle cx="1117.8" cy="1355.8" r="5.5" class="d"/><circle cx="1108.9" cy="1360.3" r="5.5" class="d"/><circle cx="1198.5" cy="1303.4" r="5.5" class="d"/><circle cx="1153.2" cy="1313.8" r="5.5" class="d"/><circle cx="1165.3" cy="1317.1" r="5.5" class="d"/><circle cx="1187.9" cy="1317.1" r="5.5" class="d"/><circle cx="1175.3" cy="1323.8" r="5.5" class="d"/><circle cx="1151.6" cy="1327.8" r="5.5" class="d"/><circle cx="1198.5" cy="1331.5" r="5.5" class="d"/><circle cx="1161.4" cy="1344.8" r="5.5" class="d"/><circle cx="1188.6" cy="1349.2" r="5.5" class="d"/><circle cx="1175.3" cy="1355.8" r="5.5" class="d"/><path d="M1040.10,1223.95V1433.90M1040.10,1457.60V1547.20" class="a"/><path d="M1033.60,1433.90H1046.10M1033.60,1457.60H1046.10" class="a"/><path d="M1032.20,1547.20H1250.50" class="a"/><path d="M1032.10,1225.80H1040.10M1032.10,1277.80H1040.10M1032.10,1329.70H1040.10M1032.10,1381.70H1040.10M1032.10,1547.20H1040.10" class="a"/><text transform="translate(968.14,1236.80) scale(0.7900,1)" style="font-size:37.10px;font-weight:bold">0.07</text><text transform="translate(967.69,1288.80) scale(0.7900,1)" style="font-size:37.10px;font-weight:bold">0.06</text><text transform="translate(967.69,1340.70) scale(0.7900,1)" style="font-size:37.10px;font-weight:bold">0.05</text><text transform="translate(966.77,1392.70) scale(0.7900,1)" style="font-size:37.10px;font-weight:bold">0.04</text><text transform="translate(967.69,1441.70) scale(0.7900,1)" style="font-size:37.10px;font-weight:bold">0.03</text><text transform="translate(968.14,1473.50) scale(0.7900,1)" style="font-size:37.10px;font-weight:bold">0.01</text><text transform="translate(1008.89,1557.40) scale(0.7900,1)" style="font-size:37.10px;font-weight:bold">0</text><path d="M1113.40,1270.20H1177.50" class="s"/><text transform="translate(1098.71,1259.20) scale(0.7792,1)" style="font-size:33.20px;font-weight:normal;font-style:italic;" fill="#000">p=0.904</text><text transform="translate(927.20,1495.30) rotate(-90) scale(0.9833,1)" style="font-size:41.00px;font-weight:bold">Tb.Th (mm)</text></g>
<g id="p_f3"><rect x="1474.00" y="1289.50" width="66.40" height="258.80" fill="#E6E6E6"/><rect x="1540.40" y="1284.40" width="67.00" height="263.90" fill="#43A3D1"/><path d="M1474.00,1548.30V1289.50H1540.40V1548.30" class="o"/><path d="M1540.40,1548.30V1284.40H1607.40V1548.30" class="o"/><rect x="1470.00" y="1435.50" width="141.40" height="23.60" fill="#fff"/><path d="M1507.90,1272.50V1301.70M1490.90,1272.50H1524.90M1490.90,1301.70H1524.90" class="e"/><path d="M1573.80,1265.80V1300.50M1556.80,1265.80H1590.80M1556.80,1300.50H1590.80" class="e"/><circle cx="1521.8" cy="1260.7" r="5.5" class="d"/><circle cx="1493.1" cy="1267.4" r="5.5" class="d"/><circle cx="1507.4" cy="1269.6" r="5.5" class="d"/><circle cx="1484.6" cy="1281.7" r="5.5" class="d"/><circle cx="1530.0" cy="1287.3" r="5.5" class="d"/><circle cx="1486.9" cy="1292.8" r="5.5" class="d"/><circle cx="1500.1" cy="1295.0" r="5.5" class="d"/><circle cx="1521.1" cy="1293.9" r="5.5" class="d"/><circle cx="1515.6" cy="1303.9" r="5.5" class="d"/><circle cx="1507.4" cy="1308.3" r="5.5" class="d"/><circle cx="1556.5" cy="1250.3" r="5.5" class="d"/><circle cx="1591.3" cy="1266.3" r="5.5" class="d"/><circle cx="1566.5" cy="1273.3" r="5.5" class="d"/><circle cx="1581.5" cy="1276.2" r="5.5" class="d"/><circle cx="1549.9" cy="1285.7" r="5.5" class="d"/><circle cx="1598.6" cy="1284.0" r="5.5" class="d"/><circle cx="1557.2" cy="1292.8" r="5.5" class="d"/><circle cx="1579.8" cy="1293.9" r="5.5" class="d"/><circle cx="1590.8" cy="1292.4" r="5.5" class="d"/><circle cx="1568.7" cy="1313.2" r="5.5" class="d"/><path d="M1439.10,1225.75V1436.10M1439.10,1459.80V1548.30" class="a"/><path d="M1432.60,1436.10H1445.10M1432.60,1459.80H1445.10" class="a"/><path d="M1431.60,1548.30H1649.40" class="a"/><path d="M1431.10,1227.60H1439.10M1431.10,1332.00H1439.10M1431.10,1548.30H1439.10" class="a"/><text transform="translate(1367.89,1239.20) scale(0.7900,1)" style="font-size:37.10px;font-weight:bold">0.16</text><text transform="translate(1367.89,1343.60) scale(0.7900,1)" style="font-size:37.10px;font-weight:bold">0.12</text><text transform="translate(1367.89,1444.00) scale(0.7900,1)" style="font-size:37.10px;font-weight:bold">0.08</text><text transform="translate(1366.97,1475.70) scale(0.7900,1)" style="font-size:37.10px;font-weight:bold">0.04</text><text transform="translate(1409.09,1559.10) scale(0.7900,1)" style="font-size:37.10px;font-weight:bold">0</text><path d="M1511.20,1227.60H1575.80" class="s"/><text transform="translate(1504.20,1216.10) scale(0.7742,1)" style="font-size:33.20px;font-weight:normal;font-style:italic;" fill="#000">p=0.53</text><text transform="translate(1342.10,1490.90) rotate(-90) scale(0.9759,1)" style="font-size:41.00px;font-weight:bold">Tb.Sp (mm)</text></g>
<g id="p_f4"><rect x="1832.70" y="1325.80" width="66.90" height="221.00" fill="#E6E6E6"/><rect x="1899.60" y="1331.60" width="66.30" height="215.20" fill="#43A3D1"/><path d="M1832.70,1546.80V1325.80H1899.60V1546.80" class="o"/><path d="M1899.60,1546.80V1331.60H1965.90V1546.80" class="o"/><rect x="1828.70" y="1431.60" width="141.20" height="23.70" fill="#fff"/><path d="M1866.20,1308.50V1340.50M1849.20,1308.50H1883.20M1849.20,1340.50H1883.20" class="e"/><path d="M1932.50,1313.40V1347.70M1915.50,1313.40H1949.50M1915.50,1347.70H1949.50" class="e"/><circle cx="1885.0" cy="1295.9" r="5.5" class="d"/><circle cx="1844.3" cy="1303.1" r="5.5" class="d"/><circle cx="1879.2" cy="1312.8" r="5.5" class="d"/><circle cx="1852.1" cy="1318.6" r="5.5" class="d"/><circle cx="1866.2" cy="1319.2" r="5.5" class="d"/><circle cx="1843.0" cy="1325.8" r="5.5" class="d"/><circle cx="1889.5" cy="1325.8" r="5.5" class="d"/><circle cx="1848.2" cy="1331.2" r="5.5" class="d"/><circle cx="1883.7" cy="1331.6" r="5.5" class="d"/><circle cx="1856.9" cy="1339.4" r="5.5" class="d"/><circle cx="1875.3" cy="1340.5" r="5.5" class="d"/><circle cx="1866.2" cy="1350.6" r="5.5" class="d"/><circle cx="1932.5" cy="1297.3" r="5.5" class="d"/><circle cx="1914.7" cy="1317.6" r="5.5" class="d"/><circle cx="1925.7" cy="1321.9" r="5.5" class="d"/><circle cx="1954.2" cy="1321.1" r="5.5" class="d"/><circle cx="1939.9" cy="1328.3" r="5.5" class="d"/><circle cx="1909.7" cy="1332.2" r="5.5" class="d"/><circle cx="1918.6" cy="1339.9" r="5.5" class="d"/><circle cx="1959.7" cy="1338.6" r="5.5" class="d"/><circle cx="1946.5" cy="1346.7" r="5.5" class="d"/><circle cx="1932.5" cy="1359.3" r="5.5" class="d"/><path d="M1797.30,1224.25V1434.00M1797.30,1457.60V1546.80" class="a"/><path d="M1790.80,1434.00H1803.30M1790.80,1457.60H1803.30" class="a"/><path d="M1790.00,1546.80H2006.00" class="a"/><path d="M1789.30,1226.10H1797.30M1789.30,1294.80H1797.30M1789.30,1365.10H1797.30M1789.30,1546.80H1797.30" class="a"/><text transform="translate(1764.63,1238.10) scale(0.7900,1)" style="font-size:37.10px;font-weight:bold">8</text><text transform="translate(1765.09,1306.80) scale(0.7900,1)" style="font-size:37.10px;font-weight:bold">7</text><text transform="translate(1764.63,1377.10) scale(0.7900,1)" style="font-size:37.10px;font-weight:bold">6</text><text transform="translate(1764.63,1442.20) scale(0.7900,1)" style="font-size:37.10px;font-weight:bold">5</text><text transform="translate(1765.09,1473.40) scale(0.7900,1)" style="font-size:37.10px;font-weight:bold">1</text><text transform="translate(1765.09,1558.00) scale(0.7900,1)" style="font-size:37.10px;font-weight:bold">0</text><path d="M1872.80,1276.00H1937.40" class="s"/><text transform="translate(1854.21,1260.60) scale(0.7824,1)" style="font-size:33.20px;font-weight:normal;font-style:italic;" fill="#000">p=0.413</text><text transform="translate(1742.20,1477.00) rotate(-90) scale(0.8046,1)" style="font-size:41.00px;font-weight:bold">Tb.N (1/mm)</text></g>
<g id="p_g"><rect x="173.80" y="1806.50" width="67.20" height="239.80" fill="#E6E6E6"/><rect x="241.00" y="1805.40" width="66.70" height="240.90" fill="#43A3D1"/><path d="M173.80,2046.30V1806.50H241.00V2046.30" class="o"/><path d="M241.00,2046.30V1805.40H307.70V2046.30" class="o"/><rect x="169.80" y="1936.30" width="141.90" height="23.80" fill="#fff"/><path d="M208.50,1774.80V1835.00M191.50,1774.80H225.50M191.50,1835.00H225.50" class="e"/><path d="M274.60,1764.80V1842.00M257.60,1764.80H291.60M257.60,1842.00H291.60" class="e"/><circle cx="229.4" cy="1759.5" r="5.5" class="d"/><circle cx="186.5" cy="1774.1" r="5.5" class="d"/><circle cx="215.5" cy="1775.7" r="5.5" class="d"/><circle cx="200.4" cy="1782.2" r="5.5" class="d"/><circle cx="222.4" cy="1794.2" r="5.5" class="d"/><circle cx="193.5" cy="1802.6" r="5.5" class="d"/><circle cx="207.4" cy="1813.5" r="5.5" class="d"/><circle cx="229.4" cy="1827.4" r="5.5" class="d"/><circle cx="186.5" cy="1835.9" r="5.5" class="d"/><circle cx="215.5" cy="1835.9" r="5.5" class="d"/><circle cx="200.4" cy="1848.9" r="5.5" class="d"/><circle cx="274.6" cy="1736.3" r="5.5" class="d"/><circle cx="274.6" cy="1768.3" r="5.5" class="d"/><circle cx="253.7" cy="1792.6" r="5.5" class="d"/><circle cx="298.9" cy="1792.6" r="5.5" class="d"/><circle cx="261.8" cy="1800.3" r="5.5" class="d"/><circle cx="291.9" cy="1798.4" r="5.5" class="d"/><circle cx="268.8" cy="1811.8" r="5.5" class="d"/><circle cx="280.4" cy="1810.0" r="5.5" class="d"/><circle cx="274.6" cy="1845.2" r="5.5" class="d"/><circle cx="274.6" cy="1877.2" r="5.5" class="d"/><path d="M139.60,1724.25V1933.90M139.60,1958.30V2046.30" class="a"/><path d="M133.10,1933.90H145.60M133.10,1958.30H145.60" class="a"/><path d="M130.90,2046.30H349.40" class="a"/><path d="M131.60,1726.10H139.60M131.60,1829.70H139.60M131.60,2046.30H139.60" class="a"/><text transform="translate(68.64,1737.60) scale(0.7900,1)" style="font-size:37.10px;font-weight:bold">0.20</text><text transform="translate(68.19,1841.20) scale(0.7900,1)" style="font-size:37.10px;font-weight:bold">0.15</text><text transform="translate(68.64,1942.00) scale(0.7900,1)" style="font-size:37.10px;font-weight:bold">0.10</text><text transform="translate(68.19,1974.20) scale(0.7900,1)" style="font-size:37.10px;font-weight:bold">0.05</text><text transform="translate(109.39,2057.00) scale(0.7900,1)" style="font-size:37.10px;font-weight:bold">0</text><path d="M205.70,1722.40H269.20" class="s"/><text transform="translate(190.81,1711.10) scale(0.7775,1)" style="font-size:33.20px;font-weight:normal;font-style:italic;" fill="#000">p=0.370</text><text transform="translate(49.60,1986.75) rotate(-90) scale(0.9748,1)" style="font-size:41.00px;font-weight:bold">Ct.Th (mm)</text></g>
<g id="p_h1"><rect x="652.00" y="1852.10" width="66.60" height="194.30" fill="#E6E6E6"/><rect x="718.60" y="1852.10" width="67.30" height="194.30" fill="#43A3D1"/><path d="M652.00,2046.40V1852.10H718.60V2046.40" class="o"/><path d="M718.60,2046.40V1852.10H785.90V2046.40" class="o"/><rect x="648.00" y="1932.50" width="141.90" height="24.20" fill="#fff"/><path d="M685.90,1806.50V1894.20M668.90,1806.50H702.90M668.90,1894.20H702.90" class="e"/><path d="M752.50,1810.20V1891.80M735.50,1810.20H769.50M735.50,1891.80H769.50" class="e"/><circle cx="685.9" cy="1769.0" r="5.5" class="d"/><circle cx="671.3" cy="1795.6" r="5.5" class="d"/><circle cx="700.4" cy="1810.2" r="5.5" class="d"/><circle cx="685.9" cy="1824.7" r="5.5" class="d"/><circle cx="678.6" cy="1858.6" r="5.5" class="d"/><circle cx="693.1" cy="1860.3" r="5.5" class="d"/><circle cx="662.4" cy="1871.9" r="5.5" class="d"/><circle cx="708.9" cy="1876.8" r="5.5" class="d"/><circle cx="672.1" cy="1887.0" r="5.5" class="d"/><circle cx="685.9" cy="1900.5" r="5.5" class="d"/><circle cx="699.2" cy="1899.1" r="5.5" class="d"/><circle cx="752.5" cy="1768.3" r="5.5" class="d"/><circle cx="759.8" cy="1833.7" r="5.5" class="d"/><circle cx="745.2" cy="1839.2" r="5.5" class="d"/><circle cx="775.5" cy="1847.2" r="5.5" class="d"/><circle cx="733.1" cy="1850.1" r="5.5" class="d"/><circle cx="765.8" cy="1855.5" r="5.5" class="d"/><circle cx="739.2" cy="1865.2" r="5.5" class="d"/><circle cx="752.5" cy="1872.4" r="5.5" class="d"/><circle cx="752.5" cy="1924.7" r="5.5" class="d"/><path d="M617.30,1724.05V1933.70M617.30,1957.20V2046.40" class="a"/><path d="M610.80,1933.70H623.30M610.80,1957.20H623.30" class="a"/><path d="M609.60,2046.40H827.60" class="a"/><path d="M609.30,1725.90H617.30M609.30,1783.50H617.30M609.30,1841.20H617.30M609.30,1898.60H617.30M609.30,2046.40H617.30" class="a"/><text transform="translate(545.94,1737.50) scale(0.7900,1)" style="font-size:37.10px;font-weight:bold">0.20</text><text transform="translate(545.49,1795.10) scale(0.7900,1)" style="font-size:37.10px;font-weight:bold">0.15</text><text transform="translate(545.94,1852.80) scale(0.7900,1)" style="font-size:37.10px;font-weight:bold">0.10</text><text transform="translate(545.49,1910.20) scale(0.7900,1)" style="font-size:37.10px;font-weight:bold">0.05</text><text transform="translate(545.49,1947.70) scale(0.7900,1)" style="font-size:37.10px;font-weight:bold">0.02</text><text transform="translate(545.94,1977.10) scale(0.7900,1)" style="font-size:37.10px;font-weight:bold">0.01</text><text transform="translate(586.69,2057.20) scale(0.7900,1)" style="font-size:37.10px;font-weight:bold">0</text><path d="M687.10,1746.50H752.00" class="s"/><text transform="translate(672.11,1737.10) scale(0.7802,1)" style="font-size:33.20px;font-weight:normal;font-style:italic;" fill="#000">p=0.981</text><text transform="translate(523.90,1938.64) rotate(-90) scale(0.9901,1)" style="font-size:41.00px;font-weight:bold">BV/TV</text></g>
<g id="p_h2"><rect x="1073.50" y="1855.80" width="66.40" height="190.90" fill="#E6E6E6"/><rect x="1139.90" y="1856.50" width="67.00" height="190.20" fill="#43A3D1"/><path d="M1073.50,2046.70V1855.80H1139.90V2046.70" class="o"/><path d="M1139.90,2046.70V1856.50H1206.90V2046.70" class="o"/><path d="M1107.40,1831.10V1877.50M1090.40,1831.10H1124.40M1090.40,1877.50H1124.40" class="e"/><path d="M1173.70,1838.20V1872.90M1156.70,1838.20H1190.70M1156.70,1872.90H1190.70" class="e"/><circle cx="1107.4" cy="1806.5" r="5.5" class="d"/><circle cx="1089.0" cy="1834.4" r="5.5" class="d"/><circle cx="1100.1" cy="1843.7" r="5.5" class="d"/><circle cx="1114.5" cy="1844.1" r="5.5" class="d"/><circle cx="1125.1" cy="1844.1" r="5.5" class="d"/><circle cx="1086.8" cy="1860.3" r="5.5" class="d"/><circle cx="1116.2" cy="1862.5" r="5.5" class="d"/><circle cx="1128.2" cy="1857.0" r="5.5" class="d"/><circle cx="1089.7" cy="1876.9" r="5.5" class="d"/><circle cx="1112.7" cy="1880.2" r="5.5" class="d"/><circle cx="1101.2" cy="1886.8" r="5.5" class="d"/><circle cx="1200.7" cy="1833.1" r="5.5" class="d"/><circle cx="1150.3" cy="1834.8" r="5.5" class="d"/><circle cx="1187.0" cy="1839.7" r="5.5" class="d"/><circle cx="1160.5" cy="1853.6" r="5.5" class="d"/><circle cx="1173.7" cy="1854.7" r="5.5" class="d"/><circle cx="1195.2" cy="1859.2" r="5.5" class="d"/><circle cx="1152.1" cy="1866.9" r="5.5" class="d"/><circle cx="1180.8" cy="1868.5" r="5.5" class="d"/><circle cx="1166.4" cy="1886.8" r="5.5" class="d"/><path d="M1038.40,1723.95V2046.70" class="a"/><path d="M1031.50,2046.70H1248.30" class="a"/><path d="M1030.40,1725.80H1038.40M1030.40,1806.10H1038.40M1030.40,1886.20H1038.40M1030.40,1966.40H1038.40M1030.40,2046.70H1038.40" class="a"/><text transform="translate(967.49,1733.60) scale(0.7900,1)" style="font-size:37.10px;font-weight:bold">0.08</text><text transform="translate(967.49,1813.90) scale(0.7900,1)" style="font-size:37.10px;font-weight:bold">0.06</text><text transform="translate(966.57,1894.00) scale(0.7900,1)" style="font-size:37.10px;font-weight:bold">0.04</text><text transform="translate(967.49,1974.20) scale(0.7900,1)" style="font-size:37.10px;font-weight:bold">0.02</text><text transform="translate(1008.69,2054.50) scale(0.7900,1)" style="font-size:37.10px;font-weight:bold">0</text><path d="M1115.60,1782.90H1179.70" class="s"/><text transform="translate(1096.51,1773.60) scale(0.7783,1)" style="font-size:33.20px;font-weight:normal;font-style:italic;" fill="#000">p=0.753</text><text transform="translate(927.20,1992.30) rotate(-90) scale(0.9838,1)" style="font-size:41.00px;font-weight:bold">Tb.Th (mm)</text></g>
<g id="p_h3"><rect x="1475.80" y="1860.90" width="66.40" height="185.80" fill="#E6E6E6"/><rect x="1542.20" y="1860.90" width="66.80" height="185.80" fill="#43A3D1"/><path d="M1475.80,2046.70V1860.90H1542.20V2046.70" class="o"/><path d="M1542.20,2046.70V1860.90H1609.00V2046.70" class="o"/><path d="M1509.60,1829.30V1888.40M1492.60,1829.30H1526.60M1492.60,1888.40H1526.60" class="e"/><path d="M1576.00,1824.90V1893.50M1559.00,1824.90H1593.00M1559.00,1893.50H1593.00" class="e"/><circle cx="1484.6" cy="1828.2" r="5.5" class="d"/><circle cx="1502.3" cy="1833.7" r="5.5" class="d"/><circle cx="1516.7" cy="1830.4" r="5.5" class="d"/><circle cx="1530.0" cy="1826.0" r="5.5" class="d"/><circle cx="1491.7" cy="1848.1" r="5.5" class="d"/><circle cx="1527.1" cy="1850.8" r="5.5" class="d"/><circle cx="1502.3" cy="1865.4" r="5.5" class="d"/><circle cx="1515.6" cy="1872.0" r="5.5" class="d"/><circle cx="1495.3" cy="1887.9" r="5.5" class="d"/><circle cx="1510.1" cy="1904.5" r="5.5" class="d"/><circle cx="1523.4" cy="1902.3" r="5.5" class="d"/><circle cx="1576.0" cy="1792.4" r="5.5" class="d"/><circle cx="1583.1" cy="1827.1" r="5.5" class="d"/><circle cx="1568.7" cy="1847.7" r="5.5" class="d"/><circle cx="1556.5" cy="1861.8" r="5.5" class="d"/><circle cx="1595.2" cy="1859.6" r="5.5" class="d"/><circle cx="1562.5" cy="1878.0" r="5.5" class="d"/><circle cx="1576.0" cy="1879.1" r="5.5" class="d"/><circle cx="1589.7" cy="1874.2" r="5.5" class="d"/><circle cx="1576.0" cy="1912.3" r="5.5" class="d"/><path d="M1440.40,1723.95V2046.70" class="a"/><path d="M1432.70,2046.70H1651.00" class="a"/><path d="M1432.40,1725.80H1440.40M1432.40,1789.90H1440.40M1432.40,1854.10H1440.40M1432.40,1918.40H1440.40M1432.40,1982.60H1440.40M1432.40,2046.70H1440.40" class="a"/><text transform="translate(1384.19,1733.60) scale(0.7900,1)" style="font-size:37.10px;font-weight:bold">0.5</text><text transform="translate(1383.27,1797.70) scale(0.7900,1)" style="font-size:37.10px;font-weight:bold">0.4</text><text transform="translate(1384.19,1861.90) scale(0.7900,1)" style="font-size:37.10px;font-weight:bold">0.3</text><text transform="translate(1384.19,1926.20) scale(0.7900,1)" style="font-size:37.10px;font-weight:bold">0.2</text><text transform="translate(1384.64,1990.40) scale(0.7900,1)" style="font-size:37.10px;font-weight:bold">0.1</text><text transform="translate(1409.09,2054.50) scale(0.7900,1)" style="font-size:37.10px;font-weight:bold">0</text><path d="M1516.70,1769.10H1581.50" class="s"/><text transform="translate(1497.61,1758.10) scale(0.7817,1)" style="font-size:33.20px;font-weight:normal;font-style:italic;" fill="#000">p=0.899</text><text transform="translate(1342.10,1987.90) rotate(-90) scale(0.9763,1)" style="font-size:41.00px;font-weight:bold">Tb.Sp (mm)</text></g>
<g id="p_h4"><rect x="1830.90" y="1824.30" width="66.50" height="221.40" fill="#E6E6E6"/><rect x="1897.40" y="1824.30" width="66.80" height="221.40" fill="#43A3D1"/><path d="M1830.90,2045.70V1824.30H1897.40V2045.70" class="o"/><path d="M1897.40,2045.70V1824.30H1964.20V2045.70" class="o"/><path d="M1864.70,1785.50V1859.10M1847.70,1785.50H1881.70M1847.70,1859.10H1881.70" class="e"/><path d="M1931.40,1783.90V1860.70M1914.40,1783.90H1948.40M1914.40,1860.70H1948.40" class="e"/><circle cx="1850.2" cy="1762.0" r="5.5" class="d"/><circle cx="1879.1" cy="1762.6" r="5.5" class="d"/><circle cx="1864.7" cy="1789.0" r="5.5" class="d"/><circle cx="1857.2" cy="1812.3" r="5.5" class="d"/><circle cx="1871.1" cy="1818.9" r="5.5" class="d"/><circle cx="1843.6" cy="1839.2" r="5.5" class="d"/><circle cx="1885.0" cy="1836.2" r="5.5" class="d"/><circle cx="1847.6" cy="1855.5" r="5.5" class="d"/><circle cx="1858.8" cy="1858.1" r="5.5" class="d"/><circle cx="1870.7" cy="1857.1" r="5.5" class="d"/><circle cx="1882.0" cy="1853.1" r="5.5" class="d"/><circle cx="1931.4" cy="1750.0" r="5.5" class="d"/><circle cx="1913.9" cy="1801.0" r="5.5" class="d"/><circle cx="1952.7" cy="1803.8" r="5.5" class="d"/><circle cx="1931.4" cy="1808.3" r="5.5" class="d"/><circle cx="1945.7" cy="1822.9" r="5.5" class="d"/><circle cx="1916.9" cy="1828.2" r="5.5" class="d"/><circle cx="1931.4" cy="1839.2" r="5.5" class="d"/><circle cx="1938.3" cy="1858.1" r="5.5" class="d"/><circle cx="1924.4" cy="1885.3" r="5.5" class="d"/><path d="M1795.70,1724.35V2045.70" class="a"/><path d="M1787.90,2045.70H2006.00" class="a"/><path d="M1787.70,1726.20H1795.70M1787.70,1790.00H1795.70M1787.70,1853.70H1795.70M1787.70,1917.80H1795.70M1787.70,1981.40H1795.70M1787.70,2045.70H1795.70" class="a"/><text transform="translate(1764.43,1738.00) scale(0.7900,1)" style="font-size:37.10px;font-weight:bold">5</text><text transform="translate(1763.51,1801.80) scale(0.7900,1)" style="font-size:37.10px;font-weight:bold">4</text><text transform="translate(1764.43,1865.50) scale(0.7900,1)" style="font-size:37.10px;font-weight:bold">3</text><text transform="translate(1764.43,1929.60) scale(0.7900,1)" style="font-size:37.10px;font-weight:bold">2</text><text transform="translate(1764.89,1993.20) scale(0.7900,1)" style="font-size:37.10px;font-weight:bold">1</text><text transform="translate(1764.89,2056.70) scale(0.7900,1)" style="font-size:37.10px;font-weight:bold">0</text><path d="M1871.10,1727.20H1935.20" class="s"/><text transform="translate(1852.00,1717.40) scale(0.7718,1)" style="font-size:33.20px;font-weight:normal;font-style:italic;" fill="#000">p=0.904</text><text transform="translate(1742.20,1974.10) rotate(-90) scale(0.8046,1)" style="font-size:41.00px;font-weight:bold">Tb.N (1/mm)</text></g>
<text transform="translate(1.11,174.50) scale(0.9400,1)" style="font-size:53.80px;font-weight:bold;" fill="#000">a.</text>
<text transform="translate(58.52,174.50) scale(0.8109,1)" style="font-size:44.95px;font-weight:bold;" fill="#000">Body Weight</text>
<text transform="translate(457.86,175.30) scale(1.0225,1)" style="font-size:53.80px;font-weight:bold;" fill="#000">b.</text>
<text transform="translate(520.63,175.00) scale(0.8094,1)" style="font-size:44.95px;font-weight:bold;" fill="#000">Spine Trabecular Bone</text>
<text transform="translate(0.64,673.80) scale(0.9848,1)" style="font-size:53.80px;font-weight:bold;" fill="#000">c.</text>
<text transform="translate(58.42,673.80) scale(0.8372,1)" style="font-size:43.53px;font-weight:bold;" fill="#000">Femur Cortical Bone</text>
<text transform="translate(494.51,674.50) scale(1.0035,1)" style="font-size:53.80px;font-weight:bold;" fill="#000">d.</text>
<text transform="translate(555.22,674.10) scale(0.8120,1)" style="font-size:44.95px;font-weight:bold;" fill="#000">Femur Trabecular Bone</text>
<text transform="translate(0.23,1171.00) scale(0.9948,1)" style="font-size:53.80px;font-weight:bold;" fill="#000">e.</text>
<text transform="translate(58.42,1171.00) scale(0.8393,1)" style="font-size:43.53px;font-weight:bold;" fill="#000">Body Weight</text>
<text transform="translate(459.82,1171.40) scale(0.9222,1)" style="font-size:53.80px;font-weight:bold;" fill="#000">f.</text>
<text transform="translate(506.03,1171.10) scale(0.8018,1)" style="font-size:45.38px;font-weight:bold;" fill="#000">Spine Trabecular Bone</text>
<text transform="translate(0.67,1672.10) scale(0.9709,1)" style="font-size:53.80px;font-weight:bold;" fill="#000">g.</text>
<text transform="translate(61.42,1672.10) scale(0.8317,1)" style="font-size:43.81px;font-weight:bold;" fill="#000">Femur Cortical Bone</text>
<text transform="translate(494.31,1672.10) scale(1.0080,1)" style="font-size:53.80px;font-weight:bold;" fill="#000">h.</text>
<text transform="translate(555.22,1671.70) scale(0.8124,1)" style="font-size:44.95px;font-weight:bold;" fill="#000">Femur Trabecular Bone</text>
<rect x="66.00" y="4.60" width="47.30" height="46.80" rx="2" fill="#FFFFFF" stroke="#231F20" stroke-width="4"/>
<text transform="translate(125.21,41.30) scale(0.9505,1)" style="font-size:41.96px;font-weight:bold;" fill="#000">Female WT</text>
<rect x="542.00" y="4.10" width="47.60" height="47.90" rx="2" fill="#F09223" stroke="#231F20" stroke-width="4"/>
<text transform="translate(600.20,41.30) scale(0.9534,1)" style="font-size:41.96px;font-weight:bold;" fill="#000">Female L2ACgKO</text>
<rect x="1103.60" y="4.10" width="47.10" height="47.90" rx="2" fill="#E6E6E6" stroke="#231F20" stroke-width="4"/>
<text transform="translate(1163.11,41.30) scale(0.9510,1)" style="font-size:41.96px;font-weight:bold;" fill="#000">Male WT</text>
<rect x="1597.20" y="4.30" width="47.70" height="47.20" rx="2" fill="#43A3D1" stroke="#231F20" stroke-width="4"/>
<text transform="translate(1659.00,41.10) scale(0.9442,1)" style="font-size:42.39px;font-weight:bold;" fill="#000">Male L2ACgKO</text>
</svg>
</body></html>
